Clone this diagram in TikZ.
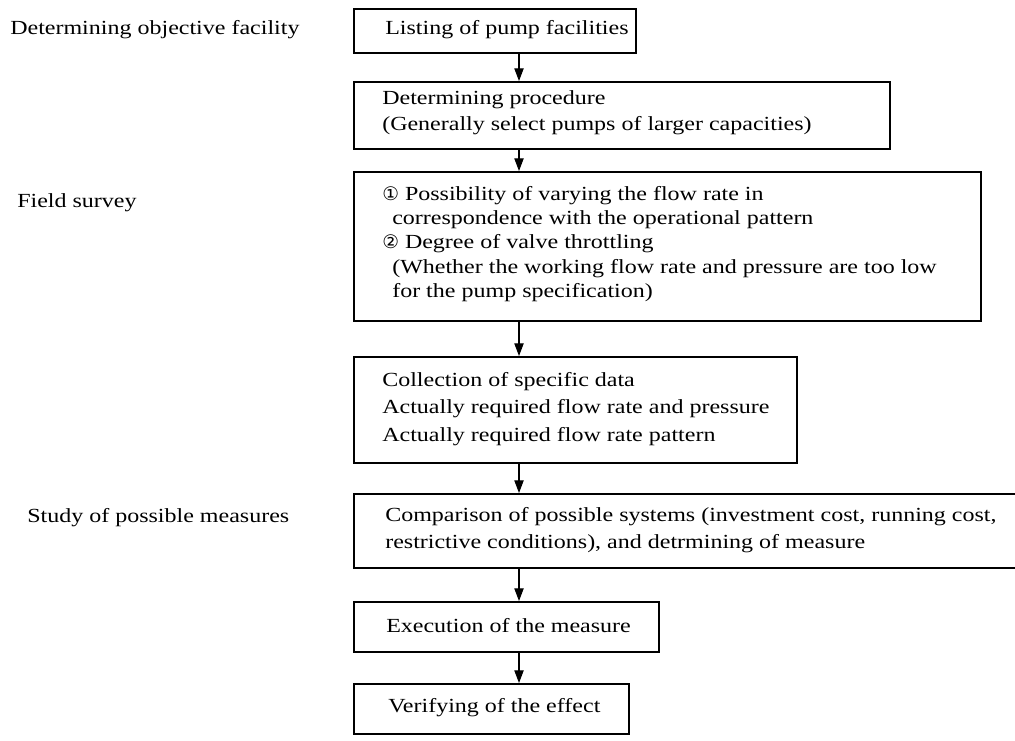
\documentclass[tikz,border=0pt]{standalone}
\usepackage{fontspec}
\setmainfont{Liberation Serif}[FakeStretch=1.2]
\newfontfamily\circfont{DejaVu Sans}
\usetikzlibrary{arrows.meta}
\begin{document}
\begin{tikzpicture}[x=0.75pt,y=-0.75pt,
  box/.style={draw, line width=1.25pt, inner sep=0pt, anchor=north west},
  txt/.style={anchor=west, align=left, inner sep=0pt, font=\fontsize{15}{19.5}\selectfont},
  lbl/.style={anchor=west, inner sep=0pt, font=\fontsize{15}{19.5}\selectfont},
  arr/.style={line width=0.8pt, -{Triangle[length=9.5pt,width=7pt]}}]
\useasboundingbox (0,0) rectangle (1015,740);

% boxes
\node[box, minimum width=211.5pt,  minimum height=33pt]    (b1) at (353,8)   {};
\node[box, minimum width=402pt,    minimum height=50.25pt] (b2) at (353,81)  {};
\node[box, minimum width=470.25pt, minimum height=111.75pt](b3) at (353,171) {};
\node[box, minimum width=332.25pt, minimum height=79.5pt]  (b4) at (353,356) {};
\node[box, minimum width=510pt,    minimum height=55.5pt]  (b5) at (353,493) {};
\node[box, minimum width=228.75pt, minimum height=37.5pt]  (b6) at (353,601) {};
\node[box, minimum width=206.25pt, minimum height=37.5pt]  (b7) at (353,683) {};

% texts in boxes
\node[txt] (t1) at (385,30) {Listing of pump facilities};
\node[txt] (t2) at (382,113) {Determining procedure\\(Generally select pumps of larger capacities)};
\node[txt, font=\fontsize{15}{18.2}\selectfont] (t3) at (382,244)
  {{\circfont\fontsize{14}{18.2}\selectfont ①} Possibility of varying the flow rate in\\
   \hspace*{7.5pt}correspondence with the operational pattern\\
   {\circfont\fontsize{14}{18.2}\selectfont ②} Degree of valve throttling\\
   \hspace*{7.5pt}(Whether the working flow rate and pressure are too low\\
   \hspace*{7.5pt}for the pump specification)};
\node[txt, font=\fontsize{15}{20.6}\selectfont] (t4) at (382,409)
  {Collection of specific data\\Actually required flow rate and pressure\\Actually required flow rate pattern};
\node[txt, font=\fontsize{15}{20.25}\selectfont] (t5) at (385,530)
  {Comparison of possible systems (investment cost, running cost,\\restrictive conditions), and detrmining of measure};
\node[txt] (t6) at (386,626) {Execution of the measure};
\node[txt] (t7) at (388,708) {Verifying of the effect};

% left labels
\node[lbl] (l1) at (10,30)  {Determining objective facility};
\node[lbl] (l2) at (17,203) {Field survey};
\node[lbl] (l3) at (27,518) {Study of possible measures};

% arrows
\coordinate (ax) at (519,0);
\draw[arr] (b1.south -| ax) -- (b2.north -| ax);
\draw[arr] (b2.south -| ax) -- (b3.north -| ax);
\draw[arr] (b3.south -| ax) -- (b4.north -| ax);
\draw[arr] (b4.south -| ax) -- (b5.north -| ax);
\draw[arr] (b5.south -| ax) -- (b6.north -| ax);
\draw[arr] (b6.south -| ax) -- (b7.north -| ax);
\end{tikzpicture}
\end{document}
